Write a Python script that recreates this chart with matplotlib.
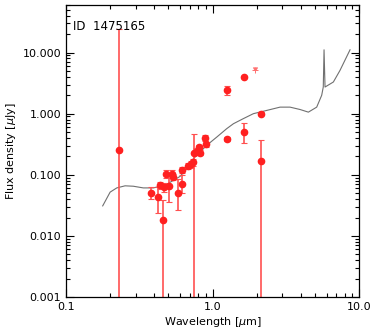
import matplotlib
matplotlib.use("Agg")
import matplotlib.pyplot as plt
import numpy as np
from matplotlib.ticker import FixedLocator, LogLocator, NullFormatter

# photometry (wavelength in micron, flux in microJy), with error bounds
wave = [0.23, 0.38, 0.425, 0.44, 0.46, 0.47, 0.48, 0.505, 0.53, 0.54,
        0.58, 0.62, 0.62, 0.675, 0.71, 0.735, 0.75, 0.77, 0.81, 0.82,
        0.89, 0.90, 1.25, 1.25, 1.64, 1.64, 2.15, 2.15]
flux = [0.25, 0.050, 0.043, 0.067, 0.018, 0.062, 0.103, 0.065, 0.103, 0.092,
        0.050, 0.072, 0.12, 0.139, 0.15, 0.16, 0.224, 0.24, 0.284, 0.23,
        0.40, 0.32, 2.4, 0.39, 4.0, 0.51, 1.0, 0.17]
flux_lo = [1e-6, 0.040, 0.024, 0.058, 1e-6, 0.052, 0.088, 0.036, 0.090, 0.082,
           0.027, 0.050, 0.105, 0.125, 0.13, 0.14, 1e-6, 0.21, 0.26, 0.21,
           0.36, 0.29, 2.0, 0.36, 3.8, 0.33, 0.95, 1e-6]
flux_hi = [24.0, 0.062, 0.062, 0.076, 0.038, 0.073, 0.118, 0.100, 0.118, 0.104,
           0.085, 0.100, 0.135, 0.155, 0.17, 0.18, 0.47, 0.27, 0.31, 0.25,
           0.44, 0.35, 2.8, 0.42, 4.2, 0.70, 1.05, 0.37]
uplim_wave = [1.96]
uplim_flux = [5.1]

# best-fit template
model_wave = [0.178, 0.200, 0.222, 0.253, 0.288, 0.337, 0.395, 0.438, 0.487,
              0.540, 0.600, 0.667, 0.740, 0.822, 0.912, 1.07, 1.25, 1.39,
              1.62, 1.90, 2.34, 2.89, 3.38, 3.96, 4.51, 5.14, 5.56, 5.70,
              5.77, 5.86, 6.68, 7.41, 8.68]
model_flux = [0.031, 0.052, 0.061, 0.066, 0.065, 0.061, 0.061, 0.065, 0.070,
              0.081, 0.094, 0.126, 0.183, 0.235, 0.303, 0.415, 0.569, 0.686,
              0.828, 1.0, 1.13, 1.28, 1.28, 1.17, 1.06, 1.28, 2.0, 2.73,
              11.1, 2.73, 3.3, 5.1, 11.1]

fig = plt.figure(figsize=(3.74, 3.35), dpi=100)
ax = fig.add_axes([0.1765, 0.1134, 0.7835, 0.8716])

red = "#ff2020"
ax.plot(model_wave, model_flux, color="#707070", lw=0.8)

flux = np.array(flux)
yerr = [flux - np.array(flux_lo), np.array(flux_hi) - flux]
ax.errorbar(wave, flux, yerr=yerr, fmt="o", color=red, ms=4.5,
            ecolor="#ff5050", elinewidth=1.2, capsize=2, capthick=0.8)
# upper limit: small cross with a downward tick
ax.plot(uplim_wave, uplim_flux, ls="none", marker="+", color="#ff7070",
        ms=4, mew=0.7)
ax.plot(uplim_wave, uplim_flux, ls="none", marker=7, color="#ff7070", ms=2.5)

ax.set_xscale("log")
ax.set_yscale("log")
ax.set_xlim(0.1, 10.0)
ax.set_ylim(0.001, 60)

ax.xaxis.set_major_locator(FixedLocator([0.1, 1.0, 10.0]))
ax.set_xticklabels(["0.1", "1.0", "10.0"])
ax.yaxis.set_major_locator(FixedLocator([0.001, 0.01, 0.1, 1.0, 10.0]))
ax.set_yticklabels(["0.001", "0.010", "0.100", "1.000", "10.000"])
ax.xaxis.set_minor_locator(LogLocator(subs=np.arange(2, 10)))
ax.yaxis.set_minor_locator(LogLocator(subs=np.arange(2, 10)))
ax.xaxis.set_minor_formatter(NullFormatter())
ax.yaxis.set_minor_formatter(NullFormatter())
ax.tick_params(which="both", direction="in", top=True, right=True,
               labelsize=8, width=0.8)
ax.tick_params(which="major", length=6)
ax.tick_params(which="minor", length=3)
for s in ax.spines.values():
    s.set_linewidth(0.9)

ax.set_xlabel(r"Wavelength [$\mu$m]", fontsize=8, labelpad=2)
ax.set_ylabel(r"Flux density [$\mu$Jy]", fontsize=8, labelpad=3)
ax.text(0.025, 0.95, "ID  1475165", transform=ax.transAxes, fontsize=8.5,
        va="top", ha="left")

fig.savefig("out.png", dpi=100)
